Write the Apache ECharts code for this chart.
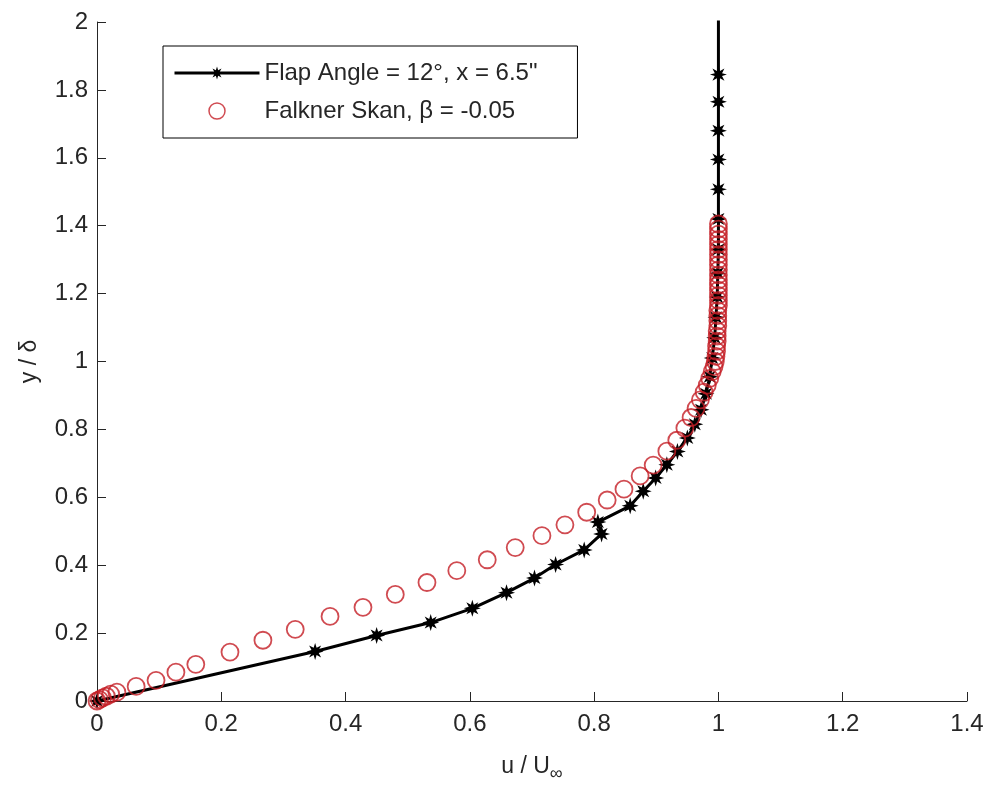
<!DOCTYPE html>
<html>
<head>
<meta charset="utf-8">
<script src="https://cdn.jsdelivr.net/npm/echarts@6/dist/echarts.min.js"></script>
<style>
  html, body { margin: 0; padding: 0; background: #ffffff; }
  #chart { width: 990px; height: 788px; }
</style>
</head>
<body>
<div id="chart"></div>
<script>
// Measured boundary-layer profile (flap at 12 deg, station x = 6.5 in)
const expU = [0, 0.351, 0.45, 0.537, 0.604, 0.659, 0.704, 0.738, 0.784, 0.812, 0.806,
  0.858, 0.879, 0.899, 0.917, 0.934, 0.95, 0.962, 0.972, 0.98, 0.986, 0.99, 0.994,
  0.996, 0.998, 0.999, 1.0, 1.0, 1.0, 1.0, 1.0, 1.0, 1.0, 1.0];
const expY = [0, 0.146, 0.193, 0.231, 0.273, 0.319, 0.362, 0.402, 0.445, 0.492, 0.527,
  0.575, 0.618, 0.657, 0.696, 0.735, 0.775, 0.815, 0.858, 0.905, 0.955, 1.01, 1.07,
  1.13, 1.19, 1.26, 1.33, 1.42, 1.507, 1.595, 1.68, 1.765, 1.845, 2.3];

// Falkner-Skan similarity solution, beta = -0.05
const fsU = [0, 0.004, 0.009, 0.015, 0.022, 0.032, 0.063, 0.095, 0.127, 0.159, 0.214,
  0.267, 0.319, 0.375, 0.428, 0.48, 0.531, 0.579, 0.628, 0.673, 0.716, 0.753, 0.788,
  0.821, 0.848, 0.874, 0.895, 0.917, 0.933, 0.946, 0.956, 0.964, 0.971, 0.977, 0.982,
  0.986, 0.99, 0.993, 0.995, 0.996, 0.997, 0.997, 0.998, 0.998, 0.998, 0.999, 0.999,
  0.999, 0.999, 1.0, 1.0, 1.0, 1.0, 1.0, 1.0, 1.0, 1.0, 1.0, 1.0, 1.0, 1.0, 1.0, 1.0,
  1.0, 1.0, 1.0];
const fsY = [0, 0.004, 0.009, 0.014, 0.02, 0.026, 0.043, 0.061, 0.085, 0.108, 0.144,
  0.179, 0.211, 0.249, 0.276, 0.314, 0.349, 0.384, 0.416, 0.452, 0.487, 0.519, 0.556,
  0.592, 0.624, 0.663, 0.695, 0.736, 0.768, 0.804, 0.835, 0.862, 0.887, 0.91, 0.93,
  0.95, 0.97, 0.985, 1.0, 1.015, 1.03, 1.045, 1.06, 1.075, 1.09, 1.105, 1.12, 1.135,
  1.15, 1.165, 1.18, 1.195, 1.21, 1.225, 1.24, 1.255, 1.27, 1.285, 1.3, 1.315, 1.33,
  1.345, 1.36, 1.375, 1.39, 1.405];

const xTicks = { min: 0, max: 1.4, step: 0.2 };
const yTicks = { min: 0, max: 2, step: 0.2 };

const seriesNames = ['Flap Angle = 12°, x = 6.5"', 'Falkner Skan, β = -0.05'];

const FONT = '"Liberation Sans", Arial, sans-serif';
const INK = '#262626';
const RING = '#c41e26';

// eight-pointed asterisk-like marker
function starPath() {
  const pts = [];
  for (let k = 0; k < 16; k++) {
    const r = k % 2 === 0 ? 10 : 4.6;
    const a = Math.PI / 2 - k * Math.PI / 8;
    pts.push((10 + r * Math.cos(a)).toFixed(2) + ' ' + (10 - r * Math.sin(a)).toFixed(2));
  }
  return 'path://M' + pts.join(' L') + ' Z';
}

const zip = (a, b) => a.map((v, i) => [v, b[i]]);

const chart = echarts.init(document.getElementById('chart'), null, { renderer: 'canvas' });

chart.setOption({
  backgroundColor: '#ffffff',
  animation: false,
  textStyle: { fontFamily: FONT, color: INK },
  grid: { left: 97, right: 23, top: 22, bottom: 84, containLabel: false },
  legend: {
    orient: 'vertical',
    left: 163,
    top: 46,
    padding: [15, 40, 15, 10],
    itemGap: 14,
    itemWidth: 85,
    itemHeight: 16,
    backgroundColor: '#ffffff',
    borderColor: '#000000',
    borderWidth: 1,
    borderRadius: 0,
    textStyle: { fontFamily: FONT, fontSize: 24, color: INK, lineHeight: 24 },
    data: [
      { name: seriesNames[0], lineStyle: { width: 3, color: '#000000' } },
      { name: seriesNames[1], itemStyle: { borderWidth: 1.5 } }
    ]
  },
  xAxis: {
    type: 'value',
    min: xTicks.min,
    max: xTicks.max,
    interval: xTicks.step,
    name: 'u / U{sub|∞}',
    nameLocation: 'middle',
    nameGap: 50,
    nameTextStyle: {
      fontFamily: FONT, fontSize: 23, color: INK,
      rich: { sub: { fontFamily: FONT, fontSize: 18, color: INK, verticalAlign: 'bottom', padding: [14, 0, 0, 0] } }
    },
    axisLine: { lineStyle: { color: INK, width: 1 } },
    axisTick: { inside: true, length: 9, lineStyle: { color: INK, width: 1 } },
    axisLabel: { fontFamily: FONT, fontSize: 24, color: INK, margin: 11 },
    splitLine: { show: false }
  },
  yAxis: {
    type: 'value',
    min: yTicks.min,
    max: yTicks.max,
    interval: yTicks.step,
    name: 'y / δ',
    nameLocation: 'middle',
    nameGap: 56,
    nameTextStyle: { fontFamily: FONT, fontSize: 23, color: INK },
    axisLine: { lineStyle: { color: INK, width: 1 } },
    axisTick: { inside: true, length: 9, lineStyle: { color: INK, width: 1 } },
    axisLabel: { fontFamily: FONT, fontSize: 24, color: INK, margin: 9 },
    splitLine: { show: false }
  },
  series: [
    {
      name: seriesNames[0],
      type: 'line',
      data: zip(expU, expY),
      clip: true,
      z: 2,
      symbol: starPath(),
      symbolSize: 17,
      showAllSymbol: true,
      lineStyle: { color: '#000000', width: 3 },
      itemStyle: { color: '#000000' }
    },
    {
      name: seriesNames[1],
      type: 'scatter',
      data: zip(fsU, fsY),
      clip: false,
      z: 3,
      symbol: 'circle',
      symbolSize: 17,
      itemStyle: { color: 'rgba(255,255,255,0)', borderColor: RING, borderWidth: 1.8 }
    }
  ]
});
</script>
</body>
</html>
